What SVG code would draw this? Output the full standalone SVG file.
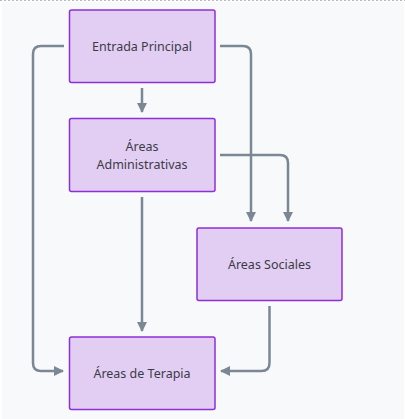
<svg xmlns="http://www.w3.org/2000/svg" width="405" height="419" viewBox="0 0 405 419">
<defs>
<style>
.node rect{fill:#e3cef3;stroke:#8f2fd6;stroke-width:1.5}
.node text{font-family:"Noto Sans","DejaVu Sans",sans-serif;font-size:12.5px;fill:#3b3b48;text-anchor:middle}
.edge{fill:none;stroke:#7b8894;stroke-width:2.5}
</style>
<marker id="ah" viewBox="0 0 10 10" refX="9" refY="5" markerWidth="4" markerHeight="4" orient="auto" markerUnits="strokeWidth">
<path d="M0,0 L10,5 L0,10 z" fill="#7b8894"/>
</marker>
</defs>
<rect x="0" y="0" width="405" height="419" fill="#ffffff"/>
<rect x="2" y="2" width="402" height="417" fill="#f8f9fa"/>
<line x1="0" y1="0.5" x2="405" y2="0.5" stroke="#b8b8b8" stroke-width="1" stroke-dasharray="2,2"/>
<g id="connectors">
<path class="edge" d="M142,88 V112" marker-end="url(#ah)"/>
<path class="edge" d="M64,46 H41 Q33,46 33,54 V363 Q33,371 41,371 H63" marker-end="url(#ah)"/>
<path class="edge" d="M220,46 H243 Q251,46 251,54 V221" marker-end="url(#ah)"/>
<path class="edge" d="M220,155 H280 Q288,155 288,163 V221" marker-end="url(#ah)"/>
<path class="edge" d="M142,197 V331" marker-end="url(#ah)"/>
<path class="edge" d="M269.5,306 V363 Q269.5,371 261.5,371 H221" marker-end="url(#ah)"/>
</g>
<g id="entrada" class="node">
<rect x="69.5" y="10" width="145.5" height="72.5" rx="2"/>
<text x="142" y="50.5">Entrada Principal</text>
</g>
<g id="administrativas" class="node">
<rect x="69.5" y="118.5" width="145.5" height="73" rx="2"/>
<text x="142" y="150.5">Áreas</text>
<text x="142" y="169">Administrativas</text>
</g>
<g id="sociales" class="node">
<rect x="197" y="228" width="145" height="72.5" rx="2"/>
<text x="269.5" y="269">Áreas Sociales</text>
</g>
<g id="terapia" class="node">
<rect x="69.5" y="337" width="145.5" height="72.5" rx="2"/>
<text x="142" y="378">Áreas de Terapia</text>
</g>
</svg>
